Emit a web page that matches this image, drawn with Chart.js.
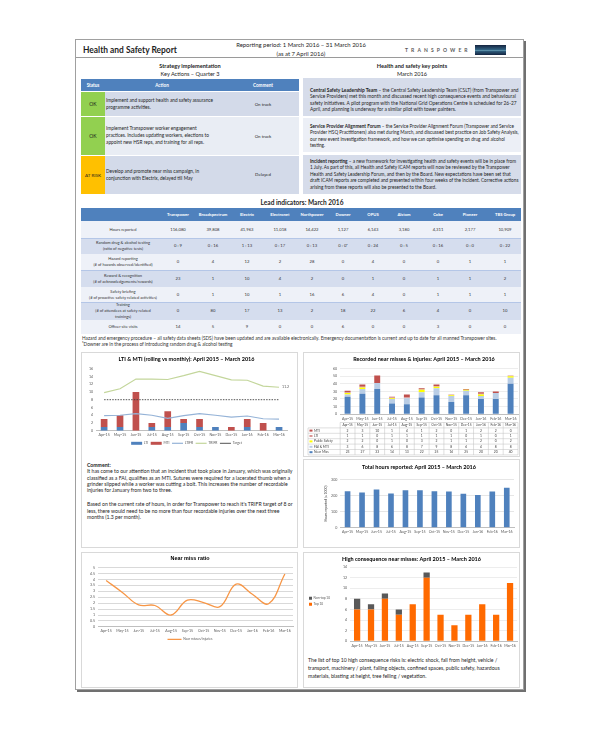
<!DOCTYPE html>
<html>
<head>
<meta charset="utf-8">
<title>Health and Safety Report</title>
<script src="https://cdn.jsdelivr.net/npm/chart.js@4.4.1/dist/chart.umd.min.js"></script>
<style>
  body { margin:0; width:600px; height:730px; position:relative; overflow:hidden; background:#fff;
         font-family:Lato, "Liberation Sans", sans-serif; color:#1e1e1e; }
  .a { position:absolute; }
  .nw { white-space:nowrap; }
  .mid { transform:translateX(-50%); text-align:center; }
  #page { left:75px; top:39px; width:447px; height:649px; border:1px solid #a0a0a0; box-shadow:2px 2px 0 #707070; }
  .head { text-align:center; font-size:5.6px; line-height:8.4px; }
  .blue { background:#4F81BD; }
  .th { color:#fff; font-size:4.6px; text-align:center; font-weight:bold; }
  .st { display:flex; align-items:center; justify-content:center; font-size:5px; }
  .txt { font-size:4.4px; line-height:7px; white-space:nowrap; }
  .kp { font-size:4.4px; line-height:6.6px; white-space:nowrap; }
  .box { border:1px solid #d9d9d9; box-sizing:border-box; background:#fff; }
  .cell { display:flex; align-items:center; justify-content:center; text-align:center; font-size:4.2px; line-height:6px; color:#333; }
  .chart { position:absolute; }
</style>
</head>
<body>
<div id="page" class="a"></div>

<!-- header -->
<div class="a nw" data-w="94" style="left:83px;top:45px;line-height:10px;font-size:8.5px;font-weight:bold;">Health and Safety Report</div>
<div class="a nw mid" data-w="130" style="left:301px;top:41px;line-height:8.5px;font-size:5.6px;">Reporting period: 1 March 2016 – 31 March 2016<br>(as at 7 April 2016)</div>
<div class="a nw" style="left:405px;top:46px;line-height:8px;font-size:5px;font-weight:bold;letter-spacing:3.1px;color:#5a5a5a;">TRANSPOWER</div>
<div class="a" style="left:475px;top:45px;width:31px;height:10px;background:linear-gradient(#14233f,#2f5f7f 45%,#6fa7bd 52%,#2f5f7f 60%,#14233f);"></div>
<div class="a" style="left:76px;top:57px;width:447px;height:1px;background:#9a9a9a;"></div>

<div class="a head" style="left:81px;top:61.5px;width:218px;"><b>Strategy implementation</b><br>Key Actions – Quarter 3</div>
<div class="a head" style="left:303px;top:61.5px;width:218px;"><b>Health and safety key points</b><br>March 2016</div>

<!-- strategy table -->
<div class="a blue" style="left:81px;top:79px;width:218px;height:12px;"></div>
<div class="a th" style="left:81px;top:79px;width:24px;line-height:12px;">Status</div>
<div class="a th" style="left:105px;top:79px;width:114px;line-height:12px;">Action</div>
<div class="a th" style="left:235px;top:79px;width:56px;line-height:12px;">Comment</div>

<div class="a st" style="left:81px;top:92px;width:24px;height:24px;background:#92D050;">OK</div>
<div class="a" style="left:105px;top:92px;width:194px;height:24px;background:#D3DAE9;"></div>
<div class="a st" style="left:81px;top:117px;width:24px;height:38px;background:#92D050;">OK</div>
<div class="a" style="left:105px;top:117px;width:194px;height:38px;background:#E9EDF4;"></div>
<div class="a st" style="left:81px;top:156px;width:24px;height:38px;background:#FFC000;font-size:4.6px;">AT RISK</div>
<div class="a" style="left:105px;top:156px;width:194px;height:38px;background:#D3DAE9;"></div>

<div class="a txt" data-w="107" style="left:106px;top:97px;">Implement and support health and safety assurance<br>programme activities.</div>
<div class="a txt" data-w="103" style="left:106px;top:125px;">Implement Transpower worker engagement<br>practices. Includes updating workers, elections to<br>appoint new HSR reps, and training for all reps.</div>
<div class="a txt" data-w="93" style="left:106px;top:167.5px;">Develop and promote near miss campaign, in<br>conjunction with Electrix, delayed till May</div>
<div class="a txt" style="left:245px;top:100.5px;width:36px;text-align:center;">On track</div>
<div class="a txt" style="left:245px;top:132.5px;width:36px;text-align:center;">On track</div>
<div class="a txt" style="left:245px;top:171px;width:36px;text-align:center;">Delayed</div>

<!-- key points -->
<div class="a" style="left:303px;top:78px;width:218px;height:38px;background:#D6DCEA;"></div>
<div class="a" style="left:303px;top:118px;width:218px;height:34px;background:#ECEFF6;"></div>
<div class="a" style="left:303px;top:155px;width:218px;height:39px;background:#D6DCEA;"></div>
<div class="a kp" data-w="209" style="left:310px;top:86.7px;"><b>Central Safety Leadership Team</b> – the Central Safety Leadership Team (CSLT) (from Transpower and<br>Service Providers) met this month and discussed recent high consequence events and behavioural<br>safety initiatives. A pilot program with the National Grid Operations Centre is scheduled for 26-27<br>April, and planning is underway for a similar pilot with tower painters.</div>
<div class="a kp" data-w="209" style="left:310px;top:122.7px;"><b>Service Provider Alignment Forum</b> – the Service Provider Alignment Forum (Transpower and Service<br>Provider HSQ Practitioners) also met during March, and discussed best practice on Job Safety Analysis,<br>our new event investigation framework, and how we can optimise spending on drug and alcohol<br>testing.</div>
<div class="a kp" data-w="209" style="left:310px;top:157.7px;"><b>Incident reporting</b> – a new framework for investigating health and safety events will be in place from<br>1 July. As part of this, all Health and Safety ICAM reports will now be reviewed by the Transpower<br>Health and Safety Leadership Forum, and then by the Board. New expectations have been set that<br>draft ICAM reports are completed and presented within four weeks of the incident. Corrective actions<br>arising from these reports will also be presented to the Board.</div>

<!-- lead indicators -->
<div class="a nw mid" data-w="83" style="left:302px;top:199px;line-height:8px;font-size:6px;font-weight:bold;">Lead indicators: March 2016</div>
<div id="lead"></div>
<div class="a nw" data-w="415" style="left:82px;top:335px;font-size:3.9px;line-height:6px;color:#333;">Hazard and emergency procedure – all safety data sheets (SDS) have been updated and are available electronically. Emergency documentation is current and up to date for all manned Transpower sites.<br>¹Downer are in the process of introducing random drug &amp; alcohol testing</div>

<!-- chart boxes -->
<div class="a box" style="left:81px;top:352px;width:217px;height:196px;"></div>
<div class="a box" style="left:303px;top:352px;width:217px;height:105px;"></div>
<div class="a box" style="left:303px;top:459px;width:217px;height:89px;"></div>
<div class="a box" style="left:81px;top:552px;width:217px;height:136px;"></div>
<div class="a box" style="left:303px;top:552px;width:217px;height:136px;"></div>

<div class="chart" style="left:82px;top:353px;width:215px;height:104px;"><canvas id="ltiChart"></canvas></div>
<div class="chart" style="left:304px;top:353px;width:215px;height:103px;"><canvas id="nearMissChart"></canvas></div>
<div class="chart" style="left:304px;top:460px;width:215px;height:87px;"><canvas id="hoursChart"></canvas></div>
<div class="chart" style="left:82px;top:553px;width:215px;height:99px;"><canvas id="ratioChart"></canvas></div>
<div class="chart" style="left:304px;top:553px;width:215px;height:100px;"><canvas id="hcChart"></canvas></div>

<div class="a nw" data-w="206" style="left:87px;top:461.8px;font-size:4.6px;line-height:6.4px;"><b>Comment:</b><br>It has come to our attention that an incident that took place in January, which was originally<br>classified as a FAI, qualifies as an MTI. Sutures were required for a lacerated thumb when a<br>grinder slipped while a worker was cutting a bolt. This increases the number of recordable<br>injuries for January from two to three.<br><span style="display:block;height:7.6px;"></span>Based on the current rate of hours, in order for Transpower to reach it's TRIFR target of 8 or<br>less, there would need to be no more than four recordable injuries over the next three<br>months (1.3 per month).</div>
<div class="a nw" data-w="192" style="left:308px;top:656px;font-size:4.8px;line-height:8px;">The list of top 10 high consequence risks is: electric shock, fall from height, vehicle /<br>transport, machinery / plant, falling objects, confined spaces, public safety, hazardous<br>materials, blasting at height, tree felling / vegetation.</div>

<script>
// ---- data ----
var months = ['Apr-15', 'May-15', 'Jun-15', 'Jul-15', 'Aug-15', 'Sep-15', 'Oct-15', 'Nov-15', 'Dec-15', 'Jan-16', 'Feb-16', 'Mar-16'];

// LTI & MTI (rolling vs monthly)
var ltiMonthly = [1, 1, 0, 1, 1, 2, 1, 1, 0, 1, 0, 1];
var mtiMonthly = [2, 3, 10, 1, 4, 1, 2, 0, 1, 2, 2, 0];
var ltifr = [3.9, 4.0, 4.4, 4.0, 3.2, 3.9, 4.4, 4.0, 3.5, 3.8, 3.1, 3.0];
var trifr = [9.8, 10.8, 13.3, 13.3, 13.2, 14.2, 15.3, 14.2, 13.1, 13.0, 11.5, 11.2];
var trifrTarget = [8, 8, 8, 8, 8, 8, 8, 8, 8, 8, 8, 8];

// Recorded near misses & injuries
var nmNearMiss = [23, 27, 33, 14, 13, 22, 25, 16, 25, 20, 20, 40];
var nmFaiMti = [3, 6, 8, 6, 8, 7, 9, 8, 6, 4, 8, 8];
var nmPublic = [2, 2, 0, 1, 0, 3, 2, 1, 1, 2, 0, 2];
var nmLti = [1, 1, 0, 1, 1, 1, 1, 1, 0, 1, 0, 1];
var nmMti = [2, 3, 10, 1, 4, 1, 2, 0, 1, 2, 2, 0];

// Total hours reported (x 1000)
var totalHours = [227, 220, 239, 214, 234, 233, 228, 225, 212, 204, 226, 249];

// Near miss ratio
var nearMissRatio = [3.9, 2.9, 1.85, 1.8, 1.0, 2.25, 2.05, 1.7, 3.6, 2.75, 1.95, 4.45];

// High consequence near misses
var hcTop10 = [6, 6, 8, 5, 7, 12, 5, 3, 5, 7, 5, 11];
var hcOther = [2, 1, 1, 1, 0, 1, 0, 0, 0, 0, 0, 0];

// Lead indicators: March 2016
var companies = ['Transpower', 'Broadspectrum', 'Electrix', 'Electronet', 'Northpower', 'Downer', 'OPUS', 'Alstom', 'Cobe', 'Pioneer', 'TBS Group'];
var hoursReported = [116080, 39808, 41963, 11018, 14422, 1127, 6143, 3180, 4311, 2177, 10909];
var drugTests = ['0 : 9', '0 : 16', '1 : 13', '0 : 17', '0 : 13', '0 : 0¹', '0 : 24', '0 : 5', '0 : 16', '0 : 0', '0 : 22'];
var hazards = [0, 4, 12, 2, 28, 0, 4, 0, 0, 1, 1];
var rewards = [23, 1, 10, 4, 2, 0, 1, 0, 1, 1, 2];
var briefings = [0, 1, 10, 1, 16, 6, 4, 0, 1, 1, 1];
var training = [0, 80, 17, 13, 2, 18, 22, 6, 4, 0, 10];
var siteVisits = [14, 5, 9, 0, 0, 6, 0, 0, 3, 0, 0];

// ---- lead indicators table ----
var colX = [178, 213, 247, 280, 312, 343, 373, 404, 438, 470, 505];
var rowTop = [221, 238, 254, 270, 287, 302, 320];
var rowH = [17, 16, 16, 17, 15, 18, 14];
var leadRows = [
  { label: 'Hours reported', vals: hoursReported.map(function (v) { return v.toLocaleString('en-US'); }) },
  { label: 'Random drug &amp; alcohol testing<br>(ratio of negative tests)', vals: drugTests },
  { label: 'Hazard reporting<br>(# of hazards observed/identified)', vals: hazards },
  { label: 'Reward &amp; recognition<br>(# of acknowledgements/rewards)', vals: rewards },
  { label: 'Safety briefing<br>(# of proactive safety related activities)', vals: briefings },
  { label: 'Training<br>(# of attendees at safety related<br>trainings)', vals: training },
  { label: 'Officer site visits', vals: siteVisits }
];
var html = '<div class="a blue" style="left:81px;top:208px;width:440px;height:13px;"></div>';
companies.forEach(function (c, i) {
  html += '<div class="a th" style="left:' + (colX[i] - 17) + 'px;top:208px;width:34px;line-height:13px;font-size:4.2px;">' + c + '</div>';
});
leadRows.forEach(function (row, r) {
  var bg = r % 2 ? '#D5DDEE' : '#EEF1F8';
  html += '<div class="a" style="left:81px;top:' + rowTop[r] + 'px;width:440px;height:' + rowH[r] + 'px;background:' + bg + ';' + (r % 2 ? 'border-top:1px solid #B4C6E7;box-sizing:border-box;' : '') + '"></div>';
  html += '<div class="a cell" style="left:81px;top:' + rowTop[r] + 'px;width:84px;height:' + rowH[r] + 'px;font-size:4px;">' + row.label + '</div>';
  row.vals.forEach(function (v, i) {
    html += '<div class="a cell" style="left:' + (colX[i] - 17) + 'px;top:' + rowTop[r] + 'px;width:34px;height:' + rowH[r] + 'px;">' + v + '</div>';
  });
});
document.getElementById('lead').innerHTML = html;

// fit text blocks to the widths measured on the reference
document.querySelectorAll('[data-w]').forEach(function (el) {
  var w = el.getBoundingClientRect().width;
  var fs = parseFloat(getComputedStyle(el).fontSize);
  el.style.fontSize = (fs * (+el.dataset.w) / w) + 'px';
});

// ---- charts ----
Chart.defaults.font.family = 'Lato';
Chart.defaults.font.size = 3.6;
Chart.defaults.color = '#595959';
Chart.defaults.animation = false;
Chart.defaults.responsive = true;
Chart.defaults.maintainAspectRatio = false;
Chart.defaults.plugins.tooltip.enabled = false;

function titleOpts(text, extra) {
  return Object.assign({ display: true, text: text, color: '#000', font: { size: 5.5, weight: 'bold' }, padding: { top: 2.5, bottom: 6.5 } }, extra || {});
}
var xTicks = { maxRotation: 0, autoSkip: false, padding: 2 };
var xGrid = { display: false, drawTicks: false };
function yTicks(step) {
  return { stepSize: step, padding: 3, autoSkip: false, callback: function (v) { return String(v); } };
}
function yGrid(color) {
  return { display: !!color, color: color || '#fff', drawTicks: false };
}

// "11.2" label at the end of the TRIFR line
var trifrEndLabel = {
  id: 'trifrEndLabel',
  afterDatasetsDraw: function (chart) {
    var meta = chart.getDatasetMeta(3);
    var pt = meta.data[meta.data.length - 1];
    var ctx = chart.ctx;
    ctx.save();
    ctx.font = '3.6px Lato';
    ctx.fillStyle = '#595959';
    ctx.textBaseline = 'middle';
    ctx.fillText(trifr[trifr.length - 1].toFixed(1), pt.x + 3, pt.y);
    ctx.restore();
  }
};

new Chart(document.getElementById('ltiChart'), {
  type: 'bar',
  data: {
    labels: months,
    datasets: [
      { label: 'LTI', data: ltiMonthly, backgroundColor: '#4F81BD', stack: 'inj', barPercentage: 0.42, categoryPercentage: 1, pointStyle: 'rect', order: 2 },
      { label: 'MTI', data: mtiMonthly, backgroundColor: '#C0504D', stack: 'inj', barPercentage: 0.42, categoryPercentage: 1, pointStyle: 'rect', order: 2 },
      { type: 'line', label: 'LTIFR', data: ltifr, borderColor: '#95B3D7', backgroundColor: '#95B3D7', borderWidth: 1.2, pointRadius: 0, stack: 'l1', pointStyle: 'line', order: 1 },
      { type: 'line', label: 'TRIFR', data: trifr, borderColor: '#C3D69B', backgroundColor: '#C3D69B', borderWidth: 1.2, pointRadius: 0, stack: 'l2', pointStyle: 'line', order: 1 },
      { type: 'line', label: 'Target', data: trifrTarget, borderColor: '#404040', backgroundColor: '#404040', borderWidth: 0.9, borderDash: [1.5, 1.2], pointRadius: 0, stack: 'l3', pointStyle: 'line', order: 1 }
    ]
  },
  options: {
    layout: { padding: { left: 4, right: 10, bottom: 2 } },
    scales: {
      x: { stacked: true, grid: xGrid, border: { color: '#BFBFBF' }, ticks: xTicks },
      y: { stacked: true, min: 0, max: 16, ticks: yTicks(2), grid: yGrid(null), border: { display: false } }
    },
    plugins: {
      title: titleOpts('LTI & MTI (rolling vs monthly): April 2015 – March 2016'),
      legend: { position: 'bottom', labels: { usePointStyle: true, pointStyleWidth: 11, boxHeight: 3, padding: 2.5, font: { size: 3.4 },
        sort: function (a, b) { return a.datasetIndex - b.datasetIndex; } } }
    }
  },
  plugins: [trifrEndLabel]
});

// data table drawn under the near miss chart, aligned on the x scale
var nearMissTable = {
  id: 'nearMissTable',
  afterDraw: function (chart) {
    var ctx = chart.ctx, xs = chart.scales.x, area = chart.chartArea;
    var h = 5.4, top = xs.bottom, labelLeft = 4;
    var colW = (area.right - area.left) / months.length;
    var rows = [{ label: '', vals: months }];
    chart.data.datasets.slice().reverse().forEach(function (ds) {
      rows.push({ label: ds.label, vals: ds.data, color: ds.backgroundColor });
    });
    ctx.save();
    ctx.strokeStyle = '#BFBFBF';
    ctx.lineWidth = 0.5;
    ctx.textBaseline = 'middle';
    ctx.textAlign = 'center';
    ctx.font = '3.3px Lato';
    rows.forEach(function (row, r) {
      var y = top + r * h;
      var x0 = r === 0 ? area.left : labelLeft;
      ctx.beginPath();
      ctx.moveTo(x0, y); ctx.lineTo(area.right, y);
      ctx.stroke();
      ctx.fillStyle = '#404040';
      row.vals.forEach(function (v, i) {
        ctx.fillText(String(v), xs.getPixelForValue(i), y + h / 2);
      });
      if (row.color) {
        ctx.fillStyle = row.color;
        ctx.fillRect(labelLeft + 1.5, y + h / 2 - 1, 3, 2);
        ctx.fillStyle = '#404040';
        ctx.textAlign = 'left';
        ctx.fillText(row.label, labelLeft + 6, y + h / 2);
        ctx.textAlign = 'center';
      }
    });
    var bottom = top + rows.length * h;
    ctx.beginPath();
    ctx.moveTo(labelLeft, bottom); ctx.lineTo(area.right, bottom);
    ctx.moveTo(labelLeft, top + h); ctx.lineTo(labelLeft, bottom);
    for (var i = 0; i <= months.length; i++) {
      var x = area.left + i * colW;
      ctx.moveTo(x, top); ctx.lineTo(x, bottom);
    }
    ctx.stroke();
    ctx.restore();
  }
};

new Chart(document.getElementById('nearMissChart'), {
  type: 'bar',
  data: {
    labels: months,
    datasets: [
      { label: 'Near Miss', data: nmNearMiss, backgroundColor: '#4F81BD' },
      { label: 'FAI & MTI', data: nmFaiMti, backgroundColor: '#B9CDE5' },
      { label: 'Public Safety', data: nmPublic, backgroundColor: '#FFFF00' },
      { label: 'LTI', data: nmLti, backgroundColor: '#D99694' },
      { label: 'MTI', data: nmMti, backgroundColor: '#C0504D' }
    ]
  },
  options: {
    datasets: { bar: { barPercentage: 0.4, categoryPercentage: 1 } },
    layout: { padding: { left: 26, right: 1, bottom: 33.5 } },
    scales: {
      x: { stacked: true, grid: xGrid, border: { color: '#BFBFBF' }, ticks: xTicks },
      y: { stacked: true, min: 0, max: 60, ticks: yTicks(10), grid: yGrid('#EDEDED'), border: { display: false } }
    },
    plugins: {
      title: titleOpts('Recorded near misses & injuries: April 2015 – March 2016'),
      legend: { display: false }
    }
  },
  plugins: [nearMissTable]
});

new Chart(document.getElementById('hoursChart'), {
  type: 'bar',
  data: {
    labels: months,
    datasets: [{ label: 'Total hours', data: totalHours, backgroundColor: '#4F81BD', barPercentage: 0.39, categoryPercentage: 1 }]
  },
  options: {
    layout: { padding: { left: 20, right: 5, bottom: 11 } },
    scales: {
      x: { grid: xGrid, border: { color: '#BFBFBF' }, ticks: xTicks },
      y: { min: 0, max: 300, ticks: yTicks(100), grid: yGrid('#E6E6E6'), border: { display: false },
           title: { display: true, text: 'Hours reported (x 1000)', font: { size: 3.4 }, color: '#404040', padding: 0 } }
    },
    plugins: {
      title: titleOpts('Total hours reported: April 2015 – March 2016', { padding: { top: 4, bottom: 9 } }),
      legend: { display: false }
    }
  }
});

new Chart(document.getElementById('ratioChart'), {
  type: 'line',
  data: {
    labels: months,
    datasets: [{ label: 'Near misses/injuries', data: nearMissRatio, borderColor: '#F79646', backgroundColor: '#F79646', borderWidth: 1.3, pointRadius: 0, tension: 0.4, pointStyle: 'line' }]
  },
  options: {
    layout: { padding: { left: 5, right: 4, bottom: 1 } },
    scales: {
      x: { offset: true, grid: xGrid, border: { color: '#BFBFBF' }, ticks: xTicks },
      y: { min: 0, max: 5, ticks: yTicks(0.5), grid: yGrid('#D9D9D9'), border: { display: false } }
    },
    plugins: {
      title: titleOpts('Near miss ratio', { font: { family: 'Liberation Sans', size: 5.4, weight: 'bold' }, padding: { top: 2.5, bottom: 5.5 } }),
      legend: { position: 'bottom', labels: { usePointStyle: true, pointStyleWidth: 14, boxHeight: 3, padding: 2.5, font: { size: 3.3 } } }
    }
  }
});

new Chart(document.getElementById('hcChart'), {
  type: 'bar',
  data: {
    labels: months,
    datasets: [
      { label: 'Top 10', data: hcTop10, backgroundColor: '#FF6A00' },
      { label: 'Non-top 10', data: hcOther, backgroundColor: '#595959' }
    ]
  },
  options: {
    datasets: { bar: { barPercentage: 0.45, categoryPercentage: 1 } },
    layout: { padding: { left: 2, right: 2, bottom: 3.5 } },
    scales: {
      x: { stacked: true, grid: xGrid, border: { color: '#BFBFBF' }, ticks: xTicks },
      y: { stacked: true, min: 0, max: 14, ticks: yTicks(2), grid: yGrid('#EDEDED'), border: { display: false } }
    },
    plugins: {
      title: titleOpts('High consequence near misses: April 2015 – March 2016', { padding: { top: 2.5, bottom: 5 } }),
      legend: { position: 'left', reverse: true, labels: { boxWidth: 3, boxHeight: 3, padding: 3, font: { size: 3.2 } } }
    }
  }
});
</script>
</body>
</html>
